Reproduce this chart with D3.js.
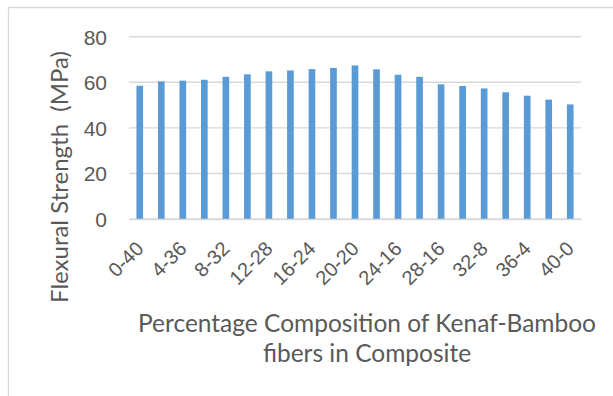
<!DOCTYPE html>
<html><head><meta charset="utf-8">
<script src="https://cdn.jsdelivr.net/npm/d3@7"></script>
<style>
html,body{margin:0;padding:0;background:#fff;}
svg{display:block;font-family:Lato, "Liberation Sans", sans-serif;}
</style></head>
<body>
<svg id="chart" width="613" height="396"></svg>
<script>
const categories = ["0-40","2-38","4-36","6-34","8-32","10-30","12-28","14-26","16-24","18-22","20-20","22-18","24-16","26-14","28-16","30-10","32-8","34-6","36-4","38-2","40-0"];
const shownLabels = ["0-40","4-36","8-32","12-28","16-24","20-20","24-16","28-16","32-8","36-4","40-0"];
const strength = [58.5,60.4,60.7,61.1,62.4,63.5,64.8,65.2,65.8,66.3,67.4,65.7,63.3,62.4,59.1,58.4,57.3,55.6,54.1,52.4,50.3];
const yTicks = [0,20,40,60,80];
const yTitle = "Flexural Strength  (MPa)";
const xTitleLines = ["Percentage Composition of Kenaf-Bamboo","fibers in Composite"];

const svg = d3.select("#chart");
const textColor = "#595959", gridColor = "#d9d9d9", barColor = "#5b9bd5";

// chart border
svg.append("path").attr("d","M8.5,396 V7.5 H613").attr("fill","none").attr("stroke",gridColor).attr("stroke-width",1.3);

const x = d3.scaleBand().domain(categories).range([129,581]).paddingInner(0.69).paddingOuter(0.345);
const y = d3.scaleLinear().domain([0,80]).range([219,36.7]);

// gridlines
svg.append("g").selectAll("line").data(yTicks).join("line")
  .attr("x1",129).attr("x2",581)
  .attr("y1",d=>y(d)).attr("y2",d=>y(d))
  .attr("stroke",gridColor).attr("stroke-width",1.4);

// bars
svg.append("g").selectAll("rect").data(strength).join("rect")
  .attr("x",(d,i)=>x(categories[i]))
  .attr("width",x.bandwidth())
  .attr("y",d=>y(d))
  .attr("height",d=>y(0)-y(d))
  .attr("fill",barColor);

// y axis
const yAxis = d3.axisLeft(y).tickValues(yTicks).tickSize(0).tickPadding(0).tickFormat(d3.format("d"));
const gy = svg.append("g").attr("transform","translate(107,0)").call(yAxis);
gy.select(".domain").remove();
gy.selectAll("text").attr("fill",textColor).style("font-size","21px").attr("dy","0.36em");

// x axis
const xAxis = d3.axisBottom(x).tickSize(0).tickPadding(0).tickFormat(d=>shownLabels.includes(d)&&categories.indexOf(d)%2===0?d:"");
const gx = svg.append("g").attr("transform","translate(0,219)").call(xAxis);
gx.select(".domain").attr("stroke",gridColor).attr("stroke-width",1.4);
gx.selectAll(".tick text")
  .attr("fill",textColor).style("font-size","20px")
  .attr("text-anchor","end")
  .attr("transform","translate(5,31) rotate(-45)")
  .attr("dy","0");

// y title
svg.append("text")
  .attr("transform","translate(68,177) rotate(-90)")
  .attr("text-anchor","middle")
  .style("white-space","pre")
  .attr("fill",textColor).style("font-size","24px")
  .text(yTitle);

// x title
svg.append("g").selectAll("text").data(xTitleLines).join("text")
  .attr("x",367).attr("y",(d,i)=>332+i*30)
  .attr("text-anchor","middle")
  .attr("fill",textColor).style("font-size","24.5px")
  .text(d=>d);
</script>
</body></html>
